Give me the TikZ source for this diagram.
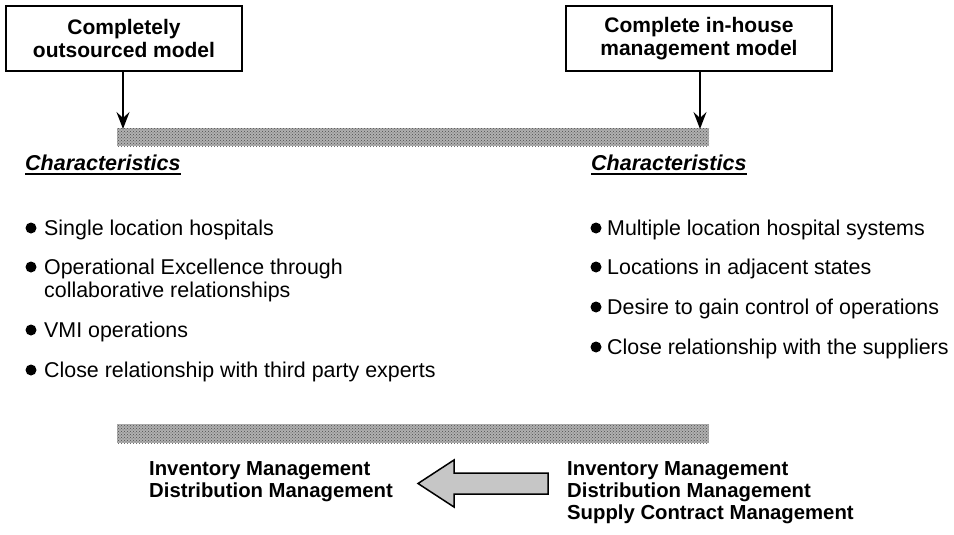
\documentclass[tikz,border=0pt]{standalone}
\usepackage{fontspec}
\setmainfont{Liberation Sans}
\usetikzlibrary{arrows.meta,patterns,shapes.arrows}
\begin{document}
\begin{tikzpicture}[x=1pt,y=-1pt,
  modelbox/.style={draw,line width=1.6pt,minimum width=#1,minimum height=65pt,align=center,
     font=\fontsize{21}{22.5}\selectfont\bfseries,inner sep=0pt},
  btext/.style={anchor=base west,inner sep=0pt,font=\fontsize{21.4}{23}\selectfont,align=left},
  bold/.style={anchor=base west,inner sep=0pt,font=\fontsize{20.3}{22}\selectfont\bfseries,align=left},
  charhead/.style={anchor=base west,inner sep=0pt,font=\fontsize{21.5}{22}\selectfont\bfseries\itshape},
  dot/.style={fill=black},
  downarrow/.style={line width=1.5pt,-{Stealth[length=17pt,width=13pt,inset=6pt]}},
  barbase/.style={fill=gray!62},
  bardots/.style={pattern=crosshatch dots,pattern color=black!70}
]
\useasboundingbox (0,0) rectangle (954,535);
% boxes
\node[modelbox=236pt] (left) at (124,38.5) {Completely\\outsourced model};
\node[modelbox=266pt] (right) at (699,38.5) {Complete in-house\\management model};
% bars
\fill[barbase] (117,128) rectangle (709,146);
\fill[bardots] (117,128) rectangle (709,146);
\coordinate (barL) at (123,129);
\coordinate (barR) at (700,129);
\draw[downarrow] (left.south -| barL) -- (barL);
\draw[downarrow] (right.south -| barR) -- (barR);
% headings
\node[charhead] (chl) at (25,170) {Characteristics};
\draw[line width=1.6pt] ([yshift=-4pt]chl.base west) -- ([yshift=-4pt]chl.base east);
\node[charhead] (chr) at (591,170) {Characteristics};
\draw[line width=1.6pt] ([yshift=-4pt]chr.base west) -- ([yshift=-4pt]chr.base east);
% left bullets
\node[btext] (l1) at (44,235) {Single location hospitals};
\node[btext] (l2) at (44,297) {Operational Excellence through\\collaborative relationships};
\node[btext] (l3) at (44,337) {VMI operations};
\node[btext] (l4) at (44,377) {Close relationship with third party experts};
\foreach \y in {228,267,330,370} \fill[dot] (31,\y) circle (5.5pt);
% right bullets
\node[btext] (r1) at (607,235) {Multiple location hospital systems};
\node[btext] (r2) at (607,274) {Locations in adjacent states};
\node[btext] (r3) at (607,314) {Desire to gain control of operations};
\node[btext] (r4) at (607,354) {Close relationship with the suppliers};
\foreach \y in {228,267,307,347} \fill[dot] (596,\y) circle (5.5pt);
% bottom bar
\fill[barbase] (117,424) rectangle (709,443);
\fill[bardots] (117,424) rectangle (709,443);
% bottom texts
\node[bold] (bl) at (149,497) {Inventory Management\\Distribution Management};
\node[bold] (br) at (567,519) {Inventory Management\\Distribution Management\\Supply Contract Management};
% fat arrow
\draw[line width=1.5pt,fill=gray!45,line join=miter]
  (548,473) -- (454,473) -- (454,460) -- (418,483.5) -- (454,507) -- (454,494) -- (548,494) -- cycle;
\end{tikzpicture}
\end{document}
